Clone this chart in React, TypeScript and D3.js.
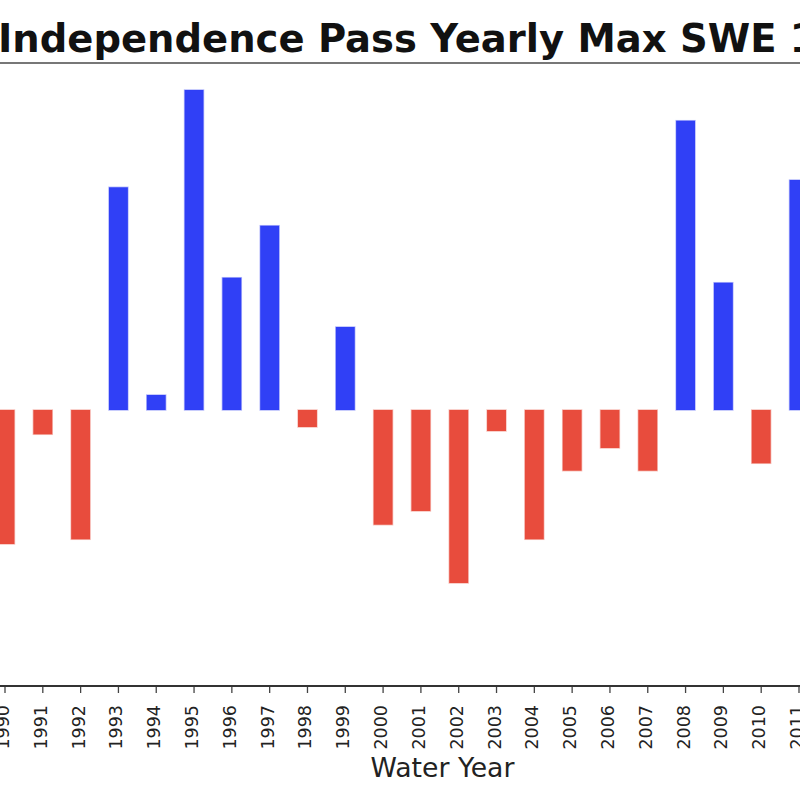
import React from "react";
import * as d3 from "d3";

const years = [1990, 1991, 1992, 1993, 1994, 1995, 1996, 1997, 1998, 1999, 2000, 2001, 2002, 2003, 2004, 2005, 2006, 2007, 2008, 2009, 2010, 2011];
const anomalies = [-13.4, -2.43, -12.93, 22.27, 1.5, 32.0, 13.23, 18.43, -1.7, 8.3, -11.47, -10.1, -17.3, -2.1, -12.93, -6.07, -3.8, -6.07, 28.93, 12.73, -5.33, 23.0];
const title = "Independence Pass Yearly Max SWE 1990-2011";
const xLabel = "Water Year";

const W = 800;
const H = 800;
const BLUE = "#3040f6";
const RED = "#e84c3d";

export default function App() {
  const x = d3.scaleLinear().domain([1990, 2011]).range([5, 799]);
  const y = d3.scaleLinear().domain([-27.6, 34.7]).range([686, 63]);
  const step = x(1991) - x(1990);
  const bw = step * 0.5;
  const y0 = y(0);

  return (
    <svg width={W} height={H} style={{ position: "absolute", left: 0, top: 0, background: "#fff" }}
      fontFamily="DejaVu Sans">
      <rect x={0} y={0} width={W} height={H} fill="#fff" />
      <text x={-2} y={52} fontSize={38.5} fontWeight="bold" fill="#111">{title}</text>
      {/* top spine */}
      <line x1={0} x2={W} y1={y.range()[1]} y2={y.range()[1]} stroke="#777" strokeWidth={2} />
      {years.map((yr, i) => {
        const v = anomalies[i];
        const top = v >= 0 ? y(v) : y0;
        const h = Math.abs(y(v) - y0);
        const c = v >= 0 ? BLUE : RED;
        return (
          <rect key={yr} x={x(yr) - bw / 2} y={top} width={bw} height={h} fill={c}
            stroke={c} strokeOpacity={0.35} strokeWidth={1.5} />
        );
      })}
      {/* bottom spine */}
      <line x1={0} x2={W} y1={y.range()[0]} y2={y.range()[0]} stroke="#333" strokeWidth={2} />
      {years.map((yr) => (
        <g key={"t" + yr}>
          <line x1={x(yr)} x2={x(yr)} y1={687} y2={693} stroke="#444" strokeWidth={1.3} />
          <text transform={`translate(${x(yr) + 4},705) rotate(-90)`} textAnchor="end"
            fontSize={17.5} fill="#222">{yr}</text>
        </g>
      ))}
      <text x={442.5} y={777} textAnchor="middle" fontSize={26.7} fill="#222">{xLabel}</text>
    </svg>
  );
}
